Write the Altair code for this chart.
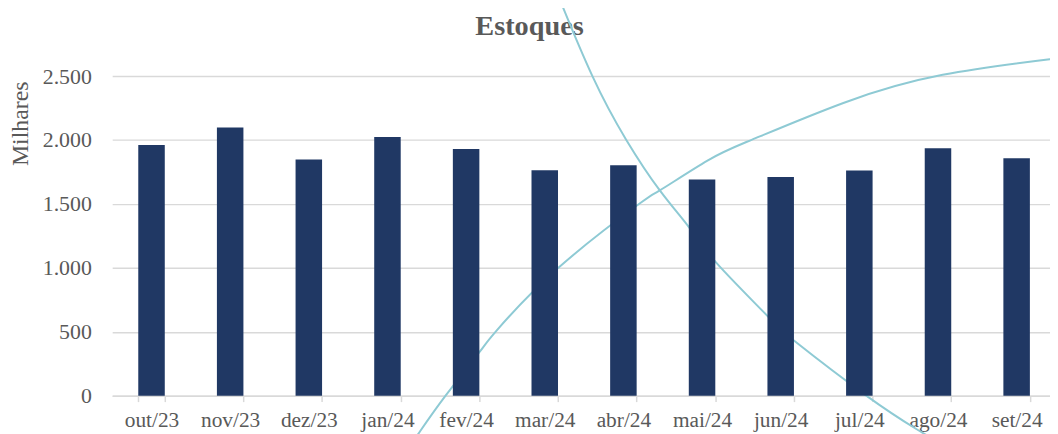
import altair as alt
import pandas as pd

# ---- data ----
meses = ["out/23", "nov/23", "dez/23", "jan/24", "fev/24", "mar/24",
         "abr/24", "mai/24", "jun/24", "jul/24", "ago/24", "set/24"]
estoques = [1961, 2098, 1847, 2024, 1930, 1764, 1803, 1692, 1710, 1762, 1935, 1857]
y_ticks = [0, 500, 1000, 1500, 2000, 2500]

# decorative arcs (x in month-slot units 0..12, y in axis units)
arco_desc_x = [5.652, 5.702, 6.106, 6.535, 6.963, 7.342, 7.683, 8.339, 8.680, 9.588, 10.219, 10.433]
arco_desc_y = [3161, 3083, 2500, 2003, 1606, 1311, 1039, 619, 425, 0, -259, -337]
arco_asc_x = [3.848, 3.911, 4.239, 4.669, 4.882, 5.677, 6.711, 6.963, 7.569, 8.137, 9.297, 10.560, 11.921, 12.136]
arco_asc_y = [-337, -282, 0, 340, 505, 1002, 1505, 1606, 1839, 2003, 2290, 2510, 2632, 2648]

bars_df = pd.DataFrame({"mes": meses, "valor": estoques})
curves_df = pd.concat([
    pd.DataFrame({"x": arco_desc_x, "y": arco_desc_y, "curva": "a",
                  "ordem": range(len(arco_desc_x))}),
    pd.DataFrame({"x": arco_asc_x, "y": arco_asc_y, "curva": "b",
                  "ordem": range(len(arco_asc_x))}),
])

FONT = "Liberation Serif"
GRAY = "#595959"
GRID = "#d9d9d9"
RANGE = 951

curves = alt.Chart(curves_df).mark_line(
    color="#8ecad4", strokeWidth=2, interpolate="natural", clip=False
).encode(
    x=alt.X("x:Q", scale=alt.Scale(domain=[0, 12], range=[0, RANGE], nice=False, zero=False),
            axis=alt.Axis(orient="top", labels=False, ticks=False, domain=False, grid=False,
                          title="Estoques", titleFont=FONT, titleFontSize=28.5,
                          titleFontWeight="bold", titleColor=GRAY,
                          titleX=420, titleY=-41.7, titleAlign="center",
                          titleBaseline="alphabetic")),
    y=alt.Y("y:Q", scale=alt.Scale(domain=[0, 2500], nice=False, zero=False), axis=None),
    detail="curva:N",
    order="ordem:Q",
)

bars = alt.Chart(bars_df).mark_bar(color="#203864").encode(
    x=alt.X("mes:N", sort=meses,
            scale=alt.Scale(range=[0, RANGE], paddingInner=0.663, paddingOuter=0.3315),
            axis=alt.Axis(title=None, labelAngle=0, labelFont=FONT, labelFontSize=21.5,
                          labelColor=GRAY, labelPadding=8, domainColor=GRID,
                          domainWidth=1.5, tickColor=GRID, tickWidth=1.5, tickSize=6,
                          tickBand="extent", grid=False)),
    y=alt.Y("valor:Q", scale=alt.Scale(domain=[0, 2500], nice=False),
            axis=alt.Axis(values=y_ticks, grid=True, gridColor=GRID, gridWidth=1.5,
                          domain=False, ticks=False, labelFont=FONT, labelFontSize=22,
                          labelColor=GRAY, labelPadding=21,
                          labelExpr="replace(format(datum.value, ','), ',', '.')",
                          title="Milhares", titleFont=FONT, titleFontSize=24,
                          titleFontWeight="normal", titleColor=GRAY,
                          titleX=-85, titleY=47.5, titleAngle=270,
                          titleAlign="center", titleBaseline="alphabetic")),
)

chart = alt.layer(curves, bars).resolve_scale(
    x="independent", y="independent"
).properties(
    width=945, height=322,
    autosize=alt.AutoSizeParams(type="none"),
    padding={"left": 105, "top": 67, "right": 0, "bottom": 37},
).configure_view(stroke=None)

chart.save("out.html", embed_options={"renderer": "svg", "actions": False})
